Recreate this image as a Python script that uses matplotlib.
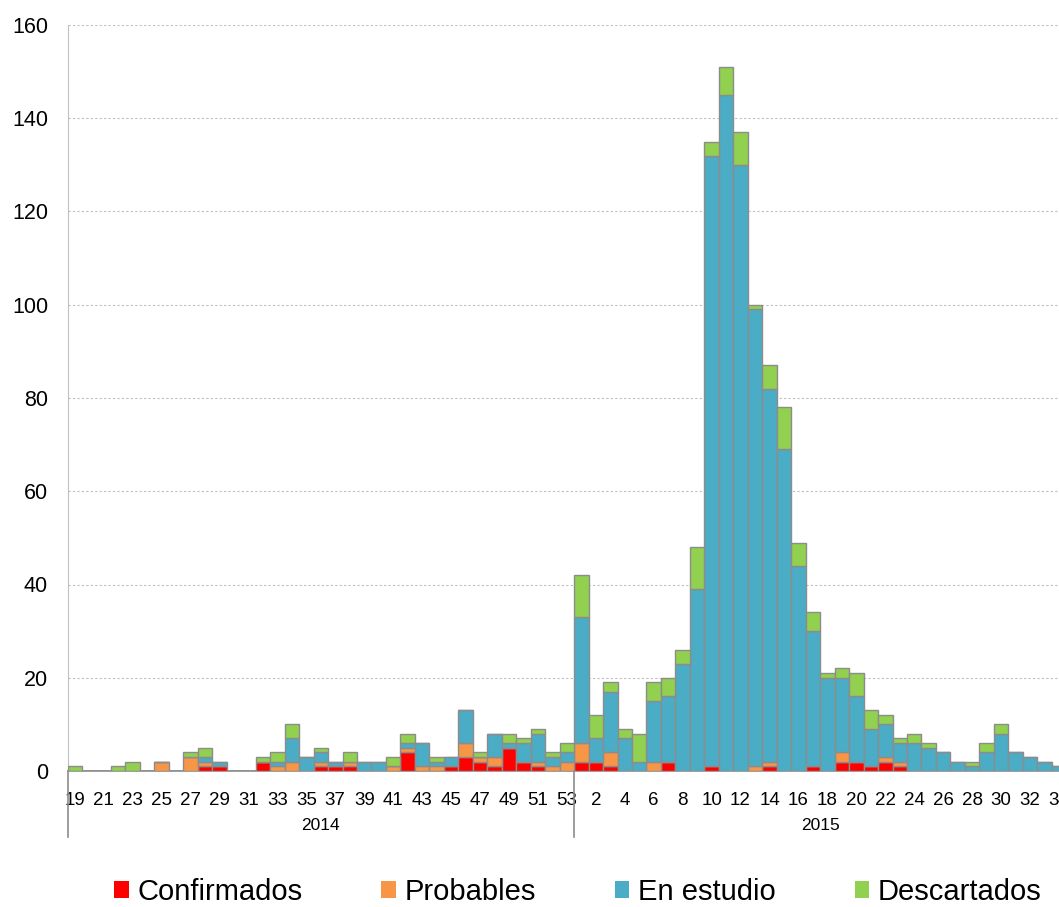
import matplotlib
matplotlib.use('Agg')
import matplotlib.pyplot as plt
import matplotlib.patches as mpatches
from matplotlib.lines import Line2D
import numpy as np

plt.rcParams['font.family'] = ['Liberation Sans', 'DejaVu Sans']

# weeks: 2014 w19-w53, 2015 w1-w34
weeks_2014 = list(range(19, 54))
weeks_2015 = list(range(1, 35))

confirmados_2014 = [0, 0, 0, 0, 0, 0, 0, 0, 0, 1, 1, 0, 0, 2, 0, 0, 0, 1, 1, 1, 0, 0, 0, 4, 0, 0, 1, 3, 2, 1, 5, 2, 1, 0, 0]
probables_2014 = [0, 0, 0, 0, 0, 0, 2, 0, 3, 1, 0, 0, 0, 0, 1, 2, 0, 1, 0, 1, 0, 0, 1, 1, 1, 1, 0, 3, 1, 2, 0, 0, 1, 1, 2]
estudio_2014 = [0, 0, 0, 0, 0, 0, 0, 0, 0, 1, 1, 0, 0, 0, 1, 5, 3, 2, 1, 0, 2, 2, 0, 1, 5, 1, 2, 7, 0, 5, 1, 4, 6, 2, 2]
descartados_2014 = [1, 0, 0, 1, 2, 0, 0, 0, 1, 2, 0, 0, 0, 1, 2, 3, 0, 1, 0, 2, 0, 0, 2, 2, 0, 1, 0, 0, 1, 0, 2, 1, 1, 1, 2]

confirmados_2015 = [2, 2, 1, 0, 0, 0, 2, 0, 0, 1, 0, 0, 0, 1, 0, 0, 1, 0, 2, 2, 1, 2, 1, 0, 0, 0, 0, 0, 0, 0, 0, 0, 0, 0]
probables_2015 = [4, 0, 3, 0, 0, 2, 0, 0, 0, 0, 0, 0, 1, 1, 0, 0, 0, 0, 2, 0, 0, 1, 1, 0, 0, 0, 0, 0, 0, 0, 0, 0, 0, 0]
estudio_2015 = [27, 5, 13, 7, 2, 13, 14, 23, 39, 131, 145, 130, 98, 80, 69, 44, 29, 20, 16, 14, 8, 7, 4, 6, 5, 4, 2, 1, 4, 8, 4, 3, 2, 1]
descartados_2015 = [9, 5, 2, 2, 6, 4, 4, 3, 9, 3, 6, 7, 1, 5, 9, 5, 4, 1, 2, 5, 4, 2, 1, 2, 1, 0, 0, 1, 2, 2, 0, 0, 0, 0]

series_names = ['Confirmados', 'Probables', 'En estudio', 'Descartados']
colors = ['#FF0000', '#F79646', '#4BACC6', '#92D050']

series = [
    confirmados_2014 + confirmados_2015,
    probables_2014 + probables_2015,
    estudio_2014 + estudio_2015,
    descartados_2014 + descartados_2015,
]
week_labels = weeks_2014 + weeks_2015
x = np.arange(len(week_labels))

fig = plt.figure(figsize=(10.59, 9.07), dpi=100)
ax = fig.add_axes([67.5 / 1059, 136 / 907, (1059 - 67.5) / 1059, 746 / 907])

bottom = np.zeros(len(x))
for vals, col in zip(series, colors):
    vals = np.array(vals)
    ax.bar(x, vals, width=1.0, bottom=bottom, color=col, edgecolor='#8c8c8c', linewidth=1.0, zorder=3)
    bottom += vals

bar_px = 509 / 35
ax.set_xlim(-0.5, -0.5 + (1059 - 67.5) / bar_px)
ax.set_ylim(0, 160)
ax.set_yticks(range(0, 161, 20))
ax.tick_params(axis='y', length=0, pad=14, labelsize=15.5)
ax.yaxis.grid(True, color='#bfbfbf', linestyle=(0, (2, 2)), linewidth=0.8, zorder=0)

ax.set_xticks(x[::2], [str(w) for w in week_labels[::2]])
ax.tick_params(axis='x', length=0, pad=15, labelsize=13.5)

for side in ['top', 'right']:
    ax.spines[side].set_visible(False)
ax.spines['left'].set_color('#c0c0c0')
ax.spines['bottom'].set_color('#8c8c8c')
ax.spines['bottom'].set_linewidth(1.2)

# year separators and labels
trans = ax.get_xaxis_transform()
n14 = len(weeks_2014)
for xs in [-0.5, n14 - 0.5]:
    ax.add_line(Line2D([xs, xs], [0, -66 / 746], transform=trans, color='#8c8c8c', linewidth=1.2, clip_on=False))
ax.text((n14 - 1) / 2, -54 / 746, '2014', transform=trans, ha='center', va='center', fontsize=12.5)
ax.text(n14 + (len(weeks_2015) - 1) / 2, -54 / 746, '2015', transform=trans, ha='center', va='center', fontsize=12.5)

handles = [mpatches.Patch(facecolor=c, edgecolor='none', label=n) for n, c in zip(series_names, colors)]
fig.legend(handles=handles, loc='center', bbox_to_anchor=(578 / 1059, 15 / 907), ncol=4, frameon=False,
           fontsize=21, handlelength=0.5, handleheight=0.5, handletextpad=0.3, columnspacing=2.7)

fig.savefig('out.png', dpi=100)
